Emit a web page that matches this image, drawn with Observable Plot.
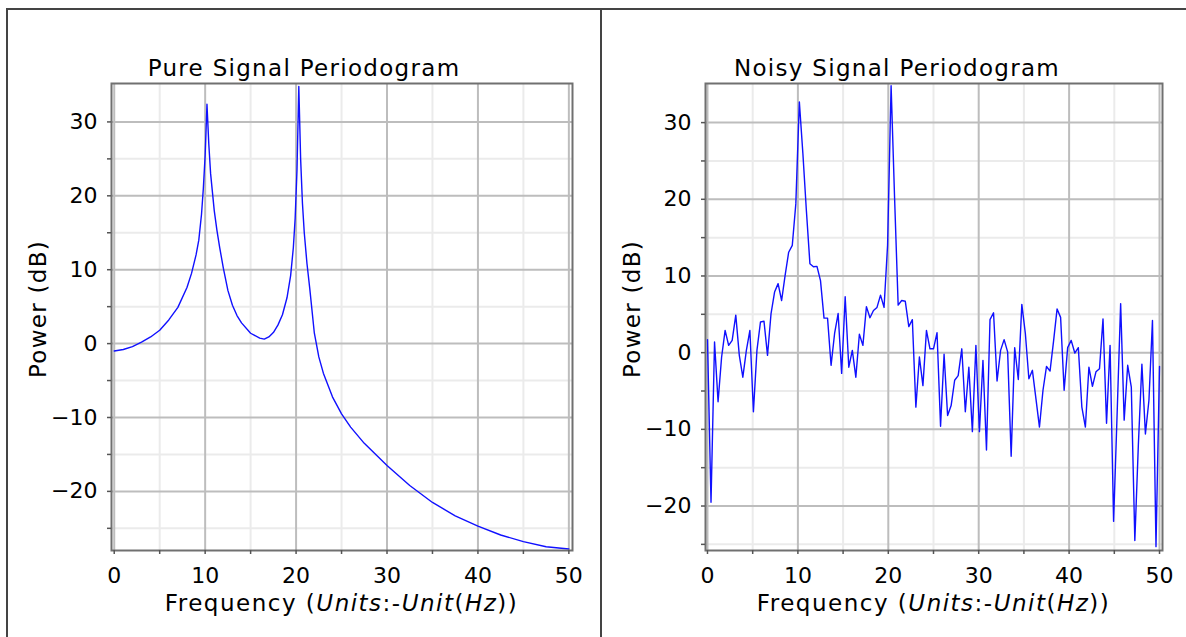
<!DOCTYPE html>
<html><head><meta charset="utf-8">
<script src="https://cdn.jsdelivr.net/npm/d3@7"></script>
<script src="https://cdn.jsdelivr.net/npm/@observablehq/plot@0.6"></script>
<style>
html,body{margin:0;padding:0;background:#fff;}
body{width:1186px;height:637px;overflow:hidden;position:relative;font-family:'DejaVu Sans',sans-serif;}
.line{position:absolute;background:#444;}
.panel{position:absolute;top:0;}
</style>
</head><body>
<div class="line" style="left:6px;top:8px;width:1180px;height:1.5px"></div>
<div class="line" style="left:6px;top:8px;width:1.5px;height:629px"></div>
<div class="line" style="left:600px;top:8px;width:1.5px;height:629px"></div>
<div id="left" class="panel" style="left:0px"></div>
<div id="right" class="panel" style="left:600px"></div>
<script>
// ---------- data ----------
const titles = ["Pure Signal Periodogram", "Noisy Signal Periodogram"];
const yLabel = "Power (dB)";
const majorTicksX = [0, 10, 20, 30, 40, 50];
const minorTicksX = [5, 15, 25, 35, 45];
const allTicksX = [0, 5, 10, 15, 20, 25, 30, 35, 40, 45, 50];
const majorTicksY = [-20, -10, 0, 10, 20, 30];
const minorTicksY = [-25, -15, -5, 5, 15, 25];
const allTicksY = [-25, -20, -15, -10, -5, 0, 5, 10, 15, 20, 25, 30];

const pureFreq = [0, 1, 2, 3, 4, 5, 6, 7, 8, 8.5, 9, 9.3, 9.6, 9.8, 10.0, 10.2, 10.4, 10.6, 10.8, 11.0, 11.3, 11.6, 12, 12.5, 13, 13.5, 14, 15, 16, 16.5, 17, 17.5, 18, 18.5, 19, 19.4, 19.7, 19.9, 20.1, 20.3, 20.5, 20.7, 20.9, 21.2, 21.5, 22, 22.5, 23, 24, 25, 26, 27.5, 30, 32.5, 35, 37.5, 40, 42.5, 45, 47.5, 50];
const purePower = [-1.0, -0.8, -0.4, 0.2, 0.9, 1.8, 3.2, 4.9, 7.6, 9.5, 12.0, 14.0, 17.5, 21, 25.5, 32.4, 27, 23, 20.5, 18, 15.3, 13, 10.2, 7.2, 5.2, 3.8, 2.8, 1.4, 0.75, 0.6, 0.9, 1.5, 2.5, 3.9, 6.2, 9.2, 13, 17, 23.5, 34.8, 25, 19, 15, 10.8, 7.5, 1.5, -1.8, -4, -7.2, -9.5, -11.3, -13.5, -16.5, -19.2, -21.5, -23.3, -24.7, -25.9, -26.8, -27.5, -27.8];

const noisyFreq = [0, 0.39, 0.78, 1.17, 1.56, 1.95, 2.34, 2.73, 3.13, 3.52, 3.91, 4.30, 4.69, 5.08, 5.47, 5.86, 6.25, 6.64, 7.03, 7.42, 7.81, 8.20, 8.59, 8.98, 9.38, 9.77, 10.16, 10.55, 10.94, 11.33, 11.72, 12.11, 12.50, 12.89, 13.28, 13.67, 14.06, 14.45, 14.84, 15.23, 15.63, 16.02, 16.41, 16.80, 17.19, 17.58, 17.97, 18.36, 18.75, 19.14, 19.53, 19.92, 20.31, 20.70, 21.09, 21.48, 21.88, 22.27, 22.66, 23.05, 23.44, 23.83, 24.22, 24.61, 25.00, 25.39, 25.78, 26.17, 26.56, 26.95, 27.34, 27.73, 28.13, 28.52, 28.91, 29.30, 29.69, 30.08, 30.47, 30.86, 31.25, 31.64, 32.03, 32.42, 32.81, 33.20, 33.59, 33.98, 34.38, 34.77, 35.16, 35.55, 35.94, 36.33, 36.72, 37.11, 37.50, 37.89, 38.28, 38.67, 39.06, 39.45, 39.84, 40.23, 40.63, 41.02, 41.41, 41.80, 42.19, 42.58, 42.97, 43.36, 43.75, 44.14, 44.53, 44.92, 45.31, 45.70, 46.09, 46.48, 46.88, 47.27, 47.66, 48.05, 48.44, 48.83, 49.22, 49.61, 50.00];
const noisyPower = [1.7, -19.5, 1.4, -6.4, -0.6, 2.9, 0.95, 1.6, 4.9, -0.35, -3.2, 0.3, 2.9, -7.7, 0.3, 4.0, 4.1, -0.35, 5.1, 7.9, 9.0, 6.8, 10.1, 13.1, 14.0, 19.4, 32.7, 26, 18.5, 11.6, 11.2, 11.25, 9.4, 4.5, 4.5, -1.65, 2.5, 5.1, -2.7, 7.3, -1.9, 0.3, -3.2, 2.4, 0.95, 6.0, 4.56, 5.5, 5.9, 7.5, 5.9, 14, 34.8, 20, 6.2, 6.8, 6.7, 3.4, 4.3, -7.1, -0.57, -4.3, 2.9, 0.5, 0.5, 2.6, -9.6, -0.2, -8.2, -6.9, -3.6, -3.0, 0.5, -7.7, -1.9, -10.3, 0.95, -10.3, -1.0, -12.7, 4.3, 5.2, -3.7, 0.3, 1.7, 0.1, -13.5, 0.65, -3.5, 6.3, 2.5, -3.4, -2.3, -6, -9.7, -4.9, -1.8, -2.4, 1.5, 5.7, 4.6, -4.9, 0.65, 1.6, -0.05, 0.65, -7.1, -9.7, -1.9, -4.4, -2.5, -2.1, 4.4, -9.2, 0.95, -22.0, -8, 6.4, -8.8, -1.65, -4.5, -24.5, -12, -1.5, -10.6, -6.2, 4.2, -25.3, -1.8];

// ---------- chart ----------
function chart({title, freq, power, width, marginLeft, marginRight, xDomain, yDomain, titleDx, yLabelDx}) {
  const data = freq.map((f, i) => ({f, p: power[i]}));
  const height = 630;
  const svg = Plot.plot({
    width, height,
    marginLeft, marginRight, marginTop: 83, marginBottom: 80,
    style: "font-family:'DejaVu Sans',sans-serif;font-size:22px;color:#000;background:transparent;overflow:visible",
    x: {domain: xDomain},
    y: {domain: yDomain},
    marks: [
      Plot.ruleX(minorTicksX, {stroke: "#ebebeb", strokeWidth: 2}),
      Plot.ruleY(minorTicksY, {stroke: "#ebebeb", strokeWidth: 2}),
      Plot.ruleX(majorTicksX, {stroke: "#bdbdbd", strokeWidth: 2}),
      Plot.ruleY(majorTicksY, {stroke: "#bdbdbd", strokeWidth: 2}),
      Plot.line(data, {x: "f", y: "p", stroke: "#1010ff", strokeWidth: 1.4}),
      Plot.frame({stroke: "#707070", strokeWidth: 2}),
      Plot.axisX(allTicksX, {tickSize: 4, tickFormat: () => "", stroke: "#555", strokeWidth: 1.5, label: null}),
      Plot.axisX(majorTicksX, {tickSize: 0, tickPadding: 17, label: null, fill: "#000"}),
      Plot.axisY(allTicksY, {tickSize: 4, tickFormat: () => "", stroke: "#555", strokeWidth: 1.5, label: null}),
      Plot.axisY(majorTicksY, {tickSize: 0, tickPadding: 14, label: null, fill: "#000"}),
      Plot.text([title], {frameAnchor: "top", lineAnchor: "middle", textAnchor: "middle", dy: -15, dx: titleDx, fill: "#000", fontSize: 23, style: "letter-spacing:1.2px"}),
      Plot.text([yLabel], {frameAnchor: "left", rotate: -90, textAnchor: "middle", lineAnchor: "middle", dx: yLabelDx, dy: -8, fill: "#000", fontSize: 23})
    ]
  });
  d3.select(svg).selectAll("text").filter(function() { return this.textContent === title || this.textContent === yLabel; })
    .style("letter-spacing", "1.3px");
  // x axis label with mixed italics
  const cx = marginLeft + (width - marginLeft - marginRight) / 2;
  const t = d3.select(svg).append("text")
    .attr("x", cx).attr("y", 611).attr("text-anchor", "middle")
    .attr("fill", "#000").attr("font-size", 23).style("letter-spacing", "1.5px");
  const parts = [["Frequency (", false], ["Units", true], [":-", false], ["Unit", true], ["(", false], ["Hz", true], ["))", false]];
  for (const [s, it] of parts) {
    t.append("tspan").attr("font-style", it ? "italic" : "normal").text(s);
  }
  return svg;
}

document.getElementById("left").appendChild(chart({
  title: titles[0], freq: pureFreq, power: purePower,
  width: 595, marginLeft: 111, marginRight: 23,
  xDomain: [-0.3, 50.4], yDomain: [-28.0, 35.2], titleDx: -38, yLabelDx: -73
}));
document.getElementById("right").appendChild(chart({
  title: titles[1], freq: noisyFreq, power: noisyPower,
  width: 586, marginLeft: 105, marginRight: 24,
  xDomain: [-0.22, 50.33], yDomain: [-25.8, 35.1], titleDx: -37, yLabelDx: -73
}));
</script>
</body></html>
